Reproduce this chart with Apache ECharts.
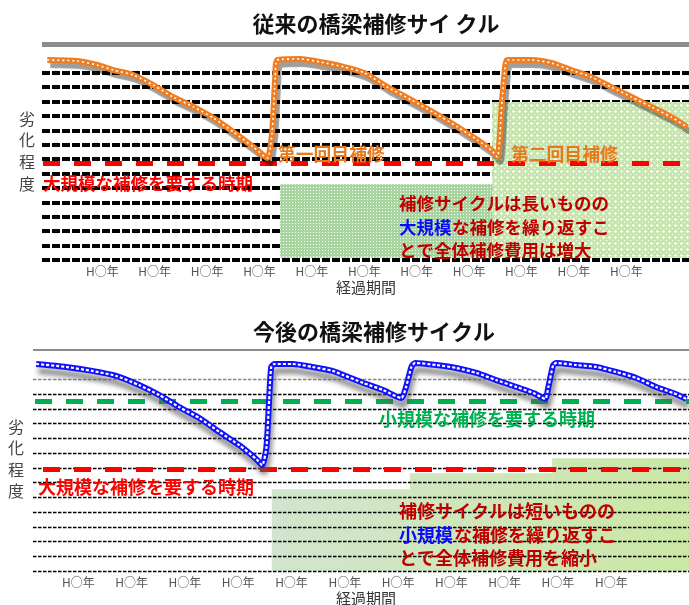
<!DOCTYPE html>
<html>
<head>
<meta charset="utf-8">
<script src="https://cdn.jsdelivr.net/npm/echarts@6/dist/echarts.min.js"></script>
<style>
  html, body { margin: 0; padding: 0; background: #fff; }
  #chart { width: 689px; height: 605px; }
</style>
</head>
<body>
<div id="chart"></div>
<script>
// Elapsed-period ticks along the x axis (period index) and their labels
const periodTicks = [1, 2, 3, 4, 5, 6, 7, 8, 9, 10, 11];
const periodLabels = ['H○年', 'H○年', 'H○年', 'H○年', 'H○年', 'H○年', 'H○年', 'H○年', 'H○年', 'H○年', 'H○年'];

// Deterioration levels carrying a ruled line, and the frame level on top
const gridLevels = [0, 1, 2, 3, 4, 5, 6, 7, 8, 9, 10, 11, 12, 13];
const frameLevel = 15;

// Conventional cycle: [period, condition] — long cycle, deep drops
const conventionalCycle = [
  [-0.05, 13.89], [0.52, 13.82], [0.90, 13.54], [1.21, 13.19], [1.59, 12.85],
  [1.97, 12.15], [2.35, 11.32], [2.74, 10.63], [3.12, 9.86], [3.50, 8.89],
  [3.88, 7.85], [4.15, 7.08], [4.24, 8.82], [4.30, 12.71], [4.34, 13.89],
  [4.78, 13.96], [5.16, 13.75], [5.62, 13.40], [6.00, 12.99], [6.44, 12.01],
  [6.90, 11.11], [7.34, 10.21], [7.78, 9.24], [8.16, 8.33], [8.42, 7.64],
  [8.54, 7.15], [8.63, 11.11], [8.67, 12.71], [8.73, 13.89], [9.19, 13.89],
  [9.57, 13.68], [9.95, 13.19], [10.33, 12.71], [10.71, 12.01], [11.10, 11.32],
  [11.48, 10.63], [11.86, 9.93], [12.16, 9.24]
];

// Preventive cycle: [period, condition] — short cycle, shallow drops
const preventiveCycle = [
  [0.21, 14.05], [0.77, 13.85], [1.26, 13.58], [1.71, 13.24], [2.14, 12.62],
  [2.52, 11.94], [2.89, 11.13], [3.27, 10.38], [3.65, 9.43], [4.02, 8.54],
  [4.34, 7.59], [4.45, 7.18], [4.53, 8.41], [4.58, 11.60], [4.62, 13.85],
  [4.68, 14.05], [5.02, 14.05], [5.39, 13.85], [5.77, 13.58], [5.97, 13.30],
  [6.35, 12.76], [6.72, 12.28], [7.06, 11.74], [7.15, 12.49], [7.25, 13.85],
  [7.32, 14.12], [7.72, 13.98], [8.09, 13.78], [8.47, 13.44], [8.84, 12.96],
  [9.22, 12.49], [9.54, 12.08], [9.76, 11.68], [9.82, 12.49], [9.91, 13.98],
  [9.97, 14.12], [10.34, 13.98], [10.72, 13.85], [11.09, 13.51], [11.47, 13.10],
  [11.84, 12.49], [12.16, 12.08], [12.41, 11.68]
];

// Threshold levels
const majorRepairLevelConventional = 6.7;
const majorRepairLevelPreventive = 6.9;
const minorRepairLevel = 11.55;

// Shaded cost regions: [fromPeriod, toPeriod, topLevel]
const conventionalCostSteps = [[4.39, 8.44, 5.28], [8.44, 12.2, 10.97]];
const preventiveCostSteps = [[4.63, 7.22, 5.55], [7.22, 9.89, 6.64], [9.89, 12.46, 7.66]];

// Axis extents (period units)
const topRange = [-0.151, 12.197];
const bottomRange = [0.150, 12.458];

const FONT = "'Noto Sans CJK JP', 'Noto Sans', sans-serif";

// Fill patterns for the cost regions
function makePattern(size, base, dots) {
  const c = document.createElement('canvas');
  c.width = size; c.height = size;
  const g = c.getContext('2d');
  g.fillStyle = base;
  g.fillRect(0, 0, size, size);
  g.fillStyle = '#ffffff';
  dots.forEach(([x, y]) => g.fillRect(x, y, 1, 1));
  return { image: c, repeat: 'repeat' };
}
const dotFill = makePattern(3, '#a8d49f', [[1, 1]]);
const crossFill = makePattern(6, '#c8e5b1', [[3, 2], [2, 3], [3, 3], [4, 3], [3, 4], [0, 0]]);

const chart = echarts.init(document.getElementById('chart'), null, { renderer: 'canvas' });

function xAxisFor(gridIndex, range) {
  return {
    type: 'value', gridIndex, min: range[0], max: range[1],
    axisLine: { show: false }, axisTick: { show: false }, splitLine: { show: false },
    axisLabel: {
      customValues: periodTicks,
      formatter: v => periodLabels[periodTicks.indexOf(v)] || '',
      color: '#555', fontSize: 12, fontFamily: FONT, margin: 5
    }
  };
}
function yAxisFor(gridIndex) {
  return {
    type: 'value', gridIndex, min: 0, max: frameLevel,
    axisLine: { show: false }, axisTick: { show: false },
    axisLabel: { show: false }, splitLine: { show: false }
  };
}
function levelLines(idx, levels, style, z) {
  return {
    type: 'line', xAxisIndex: idx, yAxisIndex: idx, data: [], z, clip: false, silent: true,
    markLine: {
      z, silent: true, symbol: 'none', animation: false, label: { show: false },
      lineStyle: style, emphasis: { disabled: true },
      data: levels.map(v => ({ yAxis: v }))
    }
  };
}

const series = [
  // ---- conventional cycle (top)
  levelLines(0, gridLevels, { color: '#000', width: 4, type: [8, 2] }, 1),
  levelLines(0, [frameLevel], { color: '#8c8c8c', width: 5, type: 'solid' }, 1),
  {
    type: 'line', xAxisIndex: 0, yAxisIndex: 0, data: [], z: 2, silent: true,
    markArea: {
      z: 2, silent: true, animation: false, label: { show: false },
      emphasis: { disabled: true },
      data: [
        [{ coord: [conventionalCostSteps[0][0], 0.15], itemStyle: { color: dotFill, opacity: 1 } },
         { coord: [conventionalCostSteps[0][1], conventionalCostSteps[0][2]] }],
        [{ coord: [conventionalCostSteps[1][0], 0.15], itemStyle: { color: crossFill, opacity: 1 } },
         { coord: [conventionalCostSteps[1][1], conventionalCostSteps[1][2]] }]
      ]
    }
  },
  levelLines(0, [majorRepairLevelConventional],
    { color: '#ff0000', width: 5, type: [17, 14], dashOffset: 30 }, 3),
  {
    type: 'line', xAxisIndex: 0, yAxisIndex: 0, data: conventionalCycle, z: 4,
    symbol: 'none', smooth: 0.2, silent: true,
    lineStyle: {
      color: '#ef7d22', width: 6,
      shadowColor: 'rgba(0,0,0,0.38)', shadowOffsetX: 3, shadowOffsetY: 5, shadowBlur: 1
    }
  },
  {
    type: 'line', xAxisIndex: 0, yAxisIndex: 0, data: conventionalCycle, z: 5,
    symbol: 'none', smooth: 0.2, silent: true,
    lineStyle: { color: '#fff', width: 1.6, type: [2, 3] }
  },

  // ---- preventive cycle (bottom)
  {
    type: 'line', xAxisIndex: 1, yAxisIndex: 1, data: [], z: 1, silent: true,
    markArea: {
      z: 1, silent: true, animation: false, label: { show: false },
      emphasis: { disabled: true },
      itemStyle: {
        opacity: 1,
        color: {
          type: 'linear', x: 272, y: 0, x2: 689, y2: 0, global: true,
          colorStops: [
            { offset: 0, color: 'rgba(205,226,200,0.9)' },
            { offset: 1, color: 'rgba(200,230,160,0.95)' }
          ]
        }
      },
      data: preventiveCostSteps.map(([a, b, top]) => [{ coord: [a, 0] }, { coord: [b, top] }])
    }
  },
  levelLines(1, gridLevels.slice(0, 13), { color: '#000', width: 1.3, type: [3.5, 1.5] }, 2),
  levelLines(1, gridLevels.slice(13), { color: '#888', width: 1.3, type: [3.5, 1.5] }, 2),
  levelLines(1, [frameLevel], { color: '#8c8c8c', width: 2, type: 'solid' }, 2),
  levelLines(1, [minorRepairLevel],
    { color: '#00b050', width: 5, type: [17, 14], dashOffset: 29 }, 3),
  levelLines(1, [majorRepairLevelPreventive],
    { color: '#ff0000', width: 5, type: [17, 14], dashOffset: 21 }, 3),
  {
    type: 'line', xAxisIndex: 1, yAxisIndex: 1, data: preventiveCycle, z: 4,
    symbol: 'none', smooth: 0.2, silent: true,
    lineStyle: {
      color: '#1010ff', width: 6,
      shadowColor: 'rgba(90,90,90,0.7)', shadowOffsetX: 2, shadowOffsetY: 7, shadowBlur: 5
    }
  },
  {
    type: 'line', xAxisIndex: 1, yAxisIndex: 1, data: preventiveCycle, z: 5,
    symbol: 'none', smooth: 0.2, silent: true,
    lineStyle: { color: '#fff', width: 2.2, type: [3, 2] }
  }
];

function txt(text, x, y, opts) {
  return {
    type: 'text', x, y, z: 100, silent: true,
    style: Object.assign({
      text, fill: '#000', fontFamily: FONT, fontSize: 17.5, fontWeight: 'bold',
      align: 'left', verticalAlign: 'middle'
    }, opts || {})
  };
}

const DARK_RED = '#c00000';
const graphics = [
  // top panel
  txt('従来の橋梁補修サイ クル', 376, 24, { fontSize: 22, align: 'center', fill: '#111' }),
  txt('劣\n化\n程\n度', 27, 151, { fontSize: 16, fontWeight: 'normal', align: 'center', fill: '#444', lineHeight: 21.7 }),
  txt('大規模な補修を要する時期', 43, 183, { fill: '#ff0000' }),
  txt('第一回目補修', 278, 154, { fill: '#e8781a', fontSize: 17.8 }),
  txt('第二回目補修', 511, 154, { fill: '#e8781a', fontSize: 17.8 }),
  txt('補修サイクルは長いものの', 399, 203, { fill: DARK_RED }),
  txt('大規模', 399, 227, { fill: '#0a0aff' }),
  txt('な補修を繰り返すこ', 452, 227, { fill: DARK_RED }),
  txt('とで全体補修費用は増大', 399, 250, { fill: DARK_RED }),
  txt('経過期間', 366, 287, { fontSize: 15, fontWeight: 'normal', align: 'center', fill: '#333' }),

  // bottom panel
  txt('今後の橋梁補修サイクル', 374, 332, { fontSize: 22, align: 'center', fill: '#111' }),
  txt('劣\n化\n程\n度', 16, 459, { fontSize: 16, fontWeight: 'normal', align: 'center', fill: '#444', lineHeight: 21.5 }),
  txt('大規模な補修を要する時期', 38, 487, { fill: '#ff0000', fontSize: 18 }),
  txt('小規模な補修を要する時期', 379, 419, { fill: '#00b050', fontSize: 18 }),
  txt('補修サイクルは短いものの', 399, 511, { fill: DARK_RED, fontSize: 18 }),
  txt('小規模', 399, 535, { fill: '#0a0aff', fontSize: 18 }),
  txt('な補修を繰り返すこ', 454, 535, { fill: DARK_RED, fontSize: 18 }),
  txt('とで全体補修費用を縮小', 399, 558, { fill: DARK_RED, fontSize: 18 }),
  txt('経過期間', 366, 598, { fontSize: 15, fontWeight: 'normal', align: 'center', fill: '#333' })
];

chart.setOption({
  animation: false,
  backgroundColor: '#fff',
  grid: [
    { left: 42, right: 0, top: 44, height: 216 },
    { left: 33, right: 0, top: 350, height: 221 }
  ],
  xAxis: [xAxisFor(0, topRange), xAxisFor(1, bottomRange)],
  yAxis: [yAxisFor(0), yAxisFor(1)],
  series,
  graphic: graphics
});
</script>
</body>
</html>
